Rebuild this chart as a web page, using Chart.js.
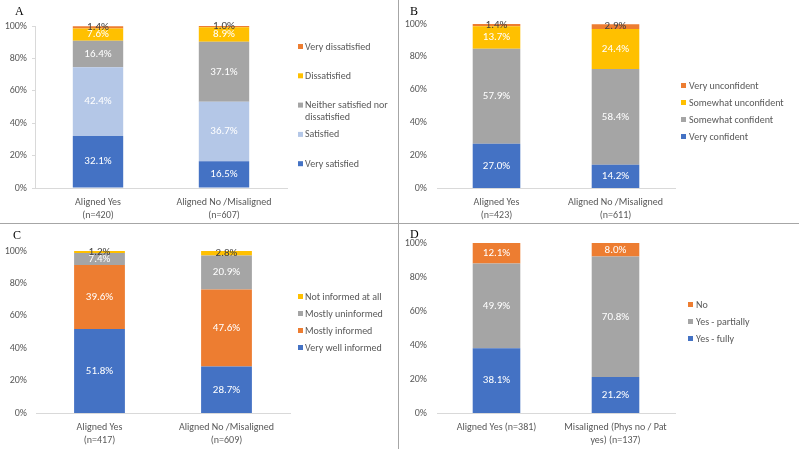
<!DOCTYPE html>
<html>
<head>
<meta charset="utf-8">
<script src="https://cdn.jsdelivr.net/npm/chart.js@4.4.1/dist/chart.umd.min.js"></script>
<style>
  body { margin: 0; background: #fff; width: 799px; height: 449px; position: relative; overflow: hidden; }
  canvas { position: absolute; }
  .letter { position: absolute; font-family: 'Liberation Serif', 'Times New Roman', serif; font-size: 12px; line-height: 12px; color: #000; }
  .vline { position: absolute; left: 398px; top: 0; width: 1px; height: 449px; background: #a6a6a6; }
  .hline { position: absolute; left: 0; top: 223px; width: 799px; height: 1px; background: #a6a6a6; }
</style>
</head>
<body>
<canvas id="chartA" width="398" height="223" style="left:0;top:0"></canvas>
<canvas id="chartB" width="399" height="223" style="left:400px;top:0"></canvas>
<canvas id="chartC" width="398" height="224" style="left:0;top:225px"></canvas>
<canvas id="chartD" width="399" height="224" style="left:400px;top:225px"></canvas>
<div class="vline"></div>
<div class="hline"></div>
<div class="letter" style="left:15px;top:5px">A</div>
<div class="letter" style="left:410px;top:5px">B</div>
<div class="letter" style="left:13px;top:229px">C</div>
<div class="letter" style="left:410px;top:228px">D</div>
<script>
// --- data ---
const yTicks = [0, 20, 40, 60, 80, 100];

const catsA = [['Aligned Yes', '(n=420)'], ['Aligned No /Misaligned', '(n=607)']];
const seriesA = ['Very satisfied', 'Satisfied', 'Neither satisfied nor dissatisfied', 'Dissatisfied', 'Very dissatisfied'];
const valuesA = [[32.1, 16.5], [42.4, 36.7], [16.4, 37.1], [7.6, 8.9], [1.4, 1.0]];

const catsB = [['Aligned Yes', '(n=423)'], ['Aligned No /Misaligned', '(n=611)']];
const seriesB = ['Very confident', 'Somewhat confident', 'Somewhat unconfident', 'Very unconfident'];
const valuesB = [[27.0, 14.2], [57.9, 58.4], [13.7, 24.4], [1.4, 2.9]];

const catsC = [['Aligned Yes', '(n=417)'], ['Aligned No /Misaligned', '(n=609)']];
const seriesC = ['Very well informed', 'Mostly informed', 'Mostly uninformed', 'Not informed at all'];
const valuesC = [[51.8, 28.7], [39.6, 47.6], [7.4, 20.9], [1.2, 2.8]];

const catsD = ['Aligned Yes (n=381)', ['Misaligned (Phys no / Pat', 'yes) (n=137)']];
const seriesD = ['Yes - fully', 'Yes - partially', 'No'];
const valuesD = [[38.1, 21.2], [49.9, 70.8], [12.1, 8.0]];

// --- styles ---
const BLUE = '#4472C4', LIGHTBLUE = '#B4C7E7', GRAY = '#A5A5A5', YELLOW = '#FFC000', ORANGE = '#ED7D31';
const colorsA = [BLUE, LIGHTBLUE, GRAY, YELLOW, ORANGE];
const colorsB = [BLUE, GRAY, YELLOW, ORANGE];
const colorsC = [BLUE, ORANGE, GRAY, YELLOW];
const colorsD = [BLUE, GRAY, ORANGE];

const FONT = 'Carlito, Lato, sans-serif';
const TEXT = '#595959';
Chart.defaults.font.family = FONT;
Chart.defaults.font.size = 10;
Chart.defaults.color = TEXT;

// values inside the bar segments
const barLabels = {
  id: 'barLabels',
  afterDatasetsDraw(chart) {
    const ctx = chart.ctx;
    ctx.save();
    ctx.font = '11px ' + FONT;
    ctx.textAlign = 'center';
    ctx.textBaseline = 'middle';
    chart.data.datasets.forEach((ds, i) => {
      chart.getDatasetMeta(i).data.forEach((bar, j) => {
        const v = ds.data[j];
        ctx.fillStyle = v < 3 ? '#404040' : '#ffffff';
        ctx.fillText(v.toFixed(1) + '%', bar.x, (bar.y + bar.base) / 2);
      });
    });
    ctx.restore();
  }
};

// legend on the right, top of stack first
const sideLegend = {
  id: 'sideLegend',
  afterDraw(chart, args, opts) {
    const ctx = chart.ctx;
    ctx.save();
    ctx.font = '10px ' + FONT;
    ctx.textBaseline = 'middle';
    ctx.textAlign = 'left';
    const items = chart.data.datasets.slice().reverse();
    items.forEach((ds, k) => {
      const y = opts.y + k * opts.gap;
      ctx.fillStyle = ds.backgroundColor;
      ctx.fillRect(opts.x, y - 3, 5, 5);
      ctx.fillStyle = TEXT;
      const words = ds.label.split(' ');
      let line = '', ly = y;
      words.forEach(w => {
        const test = line ? line + ' ' + w : w;
        if (line && ctx.measureText(test).width > opts.maxWidth) {
          ctx.fillText(line, opts.x + opts.textGap, ly);
          line = w;
          ly += 11.5;
        } else {
          line = test;
        }
      });
      ctx.fillText(line, opts.x + opts.textGap, ly);
    });
    ctx.restore();
  }
};

function makeChart(id, cats, series, values, colors, L) {
  const datasets = series.map((name, i) => ({
    label: name,
    data: values[i],
    backgroundColor: colors[i],
    borderWidth: 0,
    categoryPercentage: 0.4,
    barPercentage: 1
  }));
  return new Chart(document.getElementById(id), {
    type: 'bar',
    data: { labels: cats, datasets: datasets },
    plugins: [barLabels, sideLegend],
    options: {
      responsive: false,
      animation: false,
      devicePixelRatio: 1,
      layout: { padding: { top: L.top, right: L.right, left: 0, bottom: 0 } },
      plugins: {
        legend: { display: false },
        tooltip: { enabled: false },
        sideLegend: L.legend
      },
      scales: {
        x: {
          stacked: true,
          grid: { display: false, drawTicks: false },
          border: { display: true, color: '#d9d9d9', width: 1 },
          ticks: { color: TEXT, font: { size: 10, lineHeight: 1.3 }, padding: 8, maxRotation: 0, autoSkip: false },
          afterFit(s) { s.height = L.xHeight; }
        },
        y: {
          stacked: true,
          min: 0,
          max: 100,
          afterBuildTicks(s) { s.ticks = yTicks.map(v => ({ value: v })); },
          grid: { display: L.yLine, drawOnChartArea: false, drawTicks: L.yLine, tickLength: 3, color: '#d9d9d9' },
          border: { display: L.yLine, color: '#d9d9d9', width: 1 },
          ticks: { color: TEXT, font: { size: 10 }, padding: L.yPad, callback: v => v + '%' },
          afterFit(s) { s.width = L.yWidth; }
        }
      }
    }
  });
}

makeChart('chartA', catsA, seriesA, valuesA, colorsA, {
  top: 26, right: 111, yWidth: 35, xHeight: 35, yLine: true, yPad: 5,
  legend: { x: 298, y: 47, gap: 29.3, textGap: 7, maxWidth: 90 }
});
makeChart('chartB', catsB, seriesB, valuesB, colorsB, {
  top: 24, right: 124, yWidth: 37, xHeight: 35, yLine: false, yPad: 10,
  legend: { x: 281, y: 86, gap: 17, textGap: 8, maxWidth: 200 }
});
makeChart('chartC', catsC, seriesC, valuesC, colorsC, {
  top: 26, right: 108, yWidth: 36, xHeight: 36, yLine: false, yPad: 9,
  legend: { x: 298, y: 72, gap: 17, textGap: 7, maxWidth: 200 }
});
makeChart('chartD', catsD, seriesD, valuesD, colorsD, {
  top: 18, right: 124, yWidth: 37, xHeight: 36, yLine: false, yPad: 10,
  legend: { x: 288, y: 80, gap: 17, textGap: 8, maxWidth: 200 }
});
</script>
</body>
</html>
